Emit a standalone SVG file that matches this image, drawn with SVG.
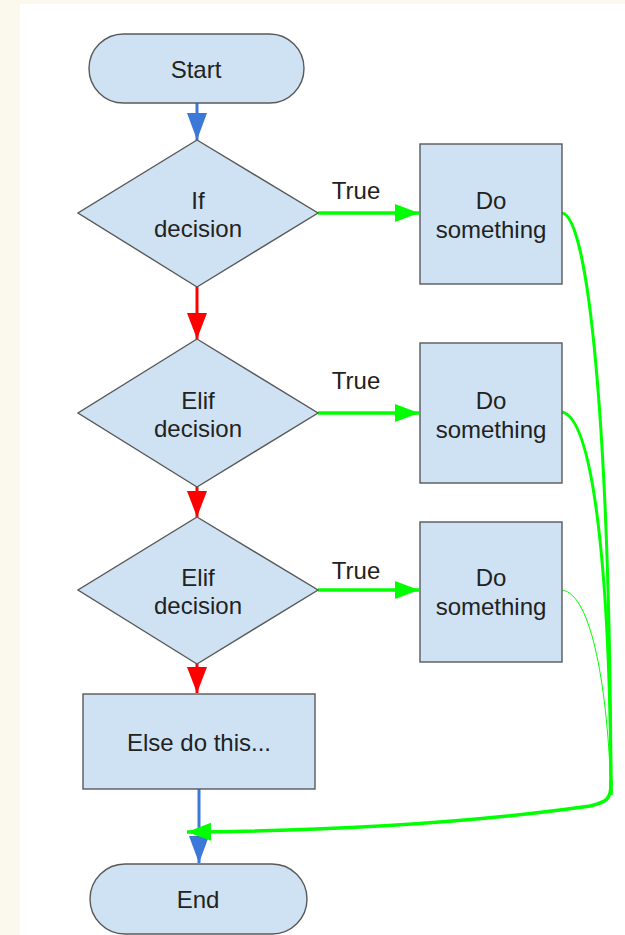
<svg xmlns="http://www.w3.org/2000/svg" width="625" height="935" viewBox="0 0 625 935">
<style>
.n{fill:#cfe2f3;stroke:#595959;stroke-width:1.4}
.t{font-family:"Liberation Sans",Arial,sans-serif;font-size:24px;fill:#222;text-anchor:middle}
.g{fill:none;stroke:#00ff00;stroke-width:3.5}
.r{fill:none;stroke:#ff0000;stroke-width:3}
.b{fill:none;stroke:#3c78d8;stroke-width:3}
</style>
<defs>
<marker id="ag" markerUnits="userSpaceOnUse" markerWidth="26" markerHeight="20" refX="24" refY="9" orient="auto"><path d="M0,0 L24,9 L0,18 Z" fill="#00ff00"/></marker>
<marker id="ar" markerUnits="userSpaceOnUse" markerWidth="26" markerHeight="22" refX="26" refY="10" orient="auto"><path d="M0,0 L26,10 L0,20 Z" fill="#ff0000"/></marker>
<marker id="ab" markerUnits="userSpaceOnUse" markerWidth="28" markerHeight="22" refX="27" refY="10" orient="auto"><path d="M0,0 L27,10 L0,20 Z" fill="#3c78d8"/></marker>
</defs>
<rect x="0" y="0" width="625" height="935" fill="#fbf8ee"/>
<rect x="20" y="4" width="605" height="931" fill="#ffffff"/>
<g id="connectors">
<path class="b" d="M197,103 L197,140" marker-end="url(#ab)"/>
<path class="r" d="M197,287 L197,339" marker-end="url(#ar)"/>
<path class="r" d="M197,487 L197,517" marker-end="url(#ar)"/>
<path class="r" d="M197,664 L197,693" marker-end="url(#ar)"/>
<path class="b" d="M199,789 L199,863" marker-end="url(#ab)"/>
<path class="g" d="M318,213 L419,213" marker-end="url(#ag)"/>
<path class="g" d="M318,413 L419,413" marker-end="url(#ag)"/>
<path class="g" d="M318,590 L419,590" marker-end="url(#ag)"/>
<text class="t" x="356" y="199">True</text>
<text class="t" x="356" y="389">True</text>
<text class="t" x="356" y="579">True</text>
<path class="g" d="M562,213 C588,216 610,420 611,795" style="stroke-width:3"/>
<path class="g" d="M562,412 C592,418 610,560 611,795" style="stroke-width:3"/>
<path class="g" d="M562,590 C592,594 608,690 611,795" style="stroke-width:1"/>
<path class="g" d="M611,780 C612,800 606,802 590,806 Q420,830 187,832" marker-end="url(#ag)"/>
</g>
<g id="start"><rect class="n" x="89" y="34" width="215" height="69" rx="34.5"/><text class="t" x="196" y="78">Start</text></g>
<g id="if1"><path class="n" d="M197,140 L318,213 L197,287 L78,213 Z"/><text class="t" x="198" y="209">If</text><text class="t" x="198" y="237">decision</text></g>
<g id="do1"><rect class="n" x="420" y="144" width="142" height="140"/><text class="t" x="491" y="209">Do</text><text class="t" x="491" y="238">something</text></g>
<g id="elif1"><path class="n" d="M197,339 L318,413 L197,487 L78,413 Z"/><text class="t" x="198" y="409">Elif</text><text class="t" x="198" y="437">decision</text></g>
<g id="do2"><rect class="n" x="420" y="343" width="142" height="140"/><text class="t" x="491" y="409">Do</text><text class="t" x="491" y="438">something</text></g>
<g id="elif2"><path class="n" d="M197,517 L318,590 L197,664 L78,590 Z"/><text class="t" x="198" y="586">Elif</text><text class="t" x="198" y="614">decision</text></g>
<g id="do3"><rect class="n" x="420" y="522" width="142" height="140"/><text class="t" x="491" y="586">Do</text><text class="t" x="491" y="615">something</text></g>
<g id="else"><rect class="n" x="83" y="694" width="232" height="95"/><text class="t" x="199" y="751">Else do this...</text></g>
<g id="end"><rect class="n" x="90" y="864" width="217" height="70" rx="35"/><text class="t" x="198" y="908">End</text></g>
</svg>
